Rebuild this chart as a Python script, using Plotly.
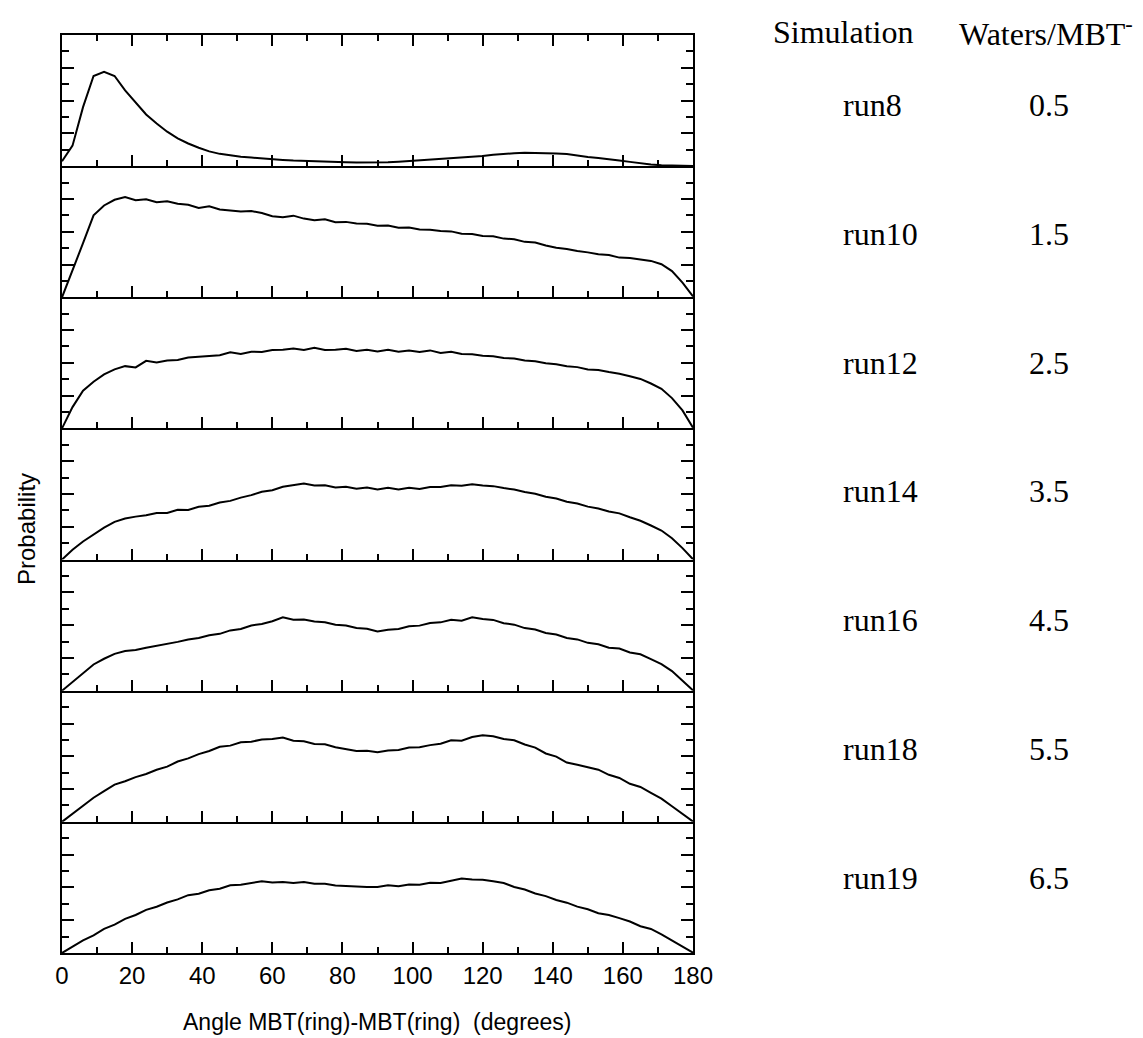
import plotly.graph_objects as go
from plotly.subplots import make_subplots

# ---------------- data (probability, in panel tick units 0-8) ----------------
angle = list(range(0, 181, 3))

run_names = ["run8", "run10", "run12", "run14", "run16", "run18", "run19"]
waters = ["0.5", "1.5", "2.5", "3.5", "4.5", "5.5", "6.5"]

run8 = [0.3, 1.25, 3.6, 5.5, 5.76, 5.5, 4.62, 3.85, 3.15, 2.6, 2.1, 1.7, 1.38, 1.12, 0.9, 0.75,
        0.65, 0.58, 0.52, 0.46, 0.42, 0.38, 0.34, 0.31, 0.29, 0.27, 0.25, 0.23, 0.22, 0.21, 0.21,
        0.23, 0.27, 0.31, 0.36, 0.42, 0.47, 0.51, 0.54, 0.57, 0.62, 0.69, 0.75, 0.79, 0.81, 0.81,
        0.79, 0.77, 0.74, 0.63, 0.56, 0.49, 0.43, 0.34, 0.26, 0.17, 0.1, 0.06, 0.04, 0.02, 0.01]
run10 = [0.0, 1.6, 3.3, 5.0, 5.6, 5.95, 6.12, 5.92, 5.98, 5.8, 5.86, 5.7, 5.64, 5.45, 5.55, 5.36,
         5.32, 5.24, 5.26, 5.14, 4.95, 4.88, 4.98, 4.8, 4.7, 4.76, 4.58, 4.6, 4.5, 4.48, 4.36,
         4.38, 4.24, 4.26, 4.14, 4.12, 4.04, 4.02, 3.88, 3.86, 3.74, 3.72, 3.58, 3.54, 3.38, 3.34,
         3.16, 3.02, 2.95, 2.82, 2.74, 2.62, 2.58, 2.42, 2.4, 2.3, 2.22, 2.02, 1.6, 0.9, 0.05]
run12 = [0.0, 1.3, 2.3, 2.85, 3.3, 3.6, 3.8, 3.72, 4.12, 4.02, 4.14, 4.18, 4.32, 4.36, 4.44, 4.46,
         4.64, 4.54, 4.68, 4.66, 4.78, 4.8, 4.88, 4.78, 4.92, 4.78, 4.8, 4.86, 4.72, 4.8, 4.7,
         4.8, 4.68, 4.75, 4.66, 4.76, 4.6, 4.68, 4.54, 4.52, 4.44, 4.4, 4.3, 4.27, 4.14, 4.1,
         3.97, 3.92, 3.8, 3.74, 3.6, 3.57, 3.44, 3.34, 3.18, 3.02, 2.74, 2.42, 1.85, 1.1, 0.05]
run14 = [0.0, 0.6, 1.1, 1.55, 1.95, 2.3, 2.5, 2.62, 2.7, 2.84, 2.84, 3.04, 3.03, 3.22, 3.28, 3.48,
         3.58, 3.78, 3.93, 4.14, 4.23, 4.44, 4.52, 4.64, 4.52, 4.54, 4.4, 4.44, 4.32, 4.4, 4.28,
         4.38, 4.28, 4.38, 4.3, 4.42, 4.43, 4.53, 4.5, 4.6, 4.52, 4.48, 4.36, 4.27, 4.12, 4.02,
         3.83, 3.72, 3.53, 3.42, 3.23, 3.12, 2.93, 2.82, 2.58, 2.37, 2.08, 1.77, 1.3, 0.7, 0.02]
run16 = [0.0, 0.55, 1.1, 1.6, 1.95, 2.25, 2.42, 2.48, 2.62, 2.73, 2.88, 2.98, 3.13, 3.22, 3.38, 3.47,
         3.68, 3.77, 3.98, 4.07, 4.24, 4.48, 4.33, 4.34, 4.22, 4.18, 4.02, 3.98, 3.82, 3.78, 3.62,
         3.72, 3.77, 3.93, 3.97, 4.13, 4.17, 4.33, 4.27, 4.48, 4.38, 4.32, 4.12, 4.03, 3.82, 3.73,
         3.52, 3.43, 3.22, 3.13, 2.92, 2.83, 2.62, 2.57, 2.33, 2.22, 1.93, 1.62, 1.2, 0.6, 0.02]
run18 = [0.0, 0.5, 1.0, 1.47, 1.88, 2.27, 2.48, 2.73, 2.92, 3.18, 3.37, 3.68, 3.87, 4.13, 4.32, 4.58,
         4.65, 4.85, 4.89, 5.03, 5.05, 5.15, 4.95, 4.91, 4.75, 4.73, 4.55, 4.43, 4.32, 4.33, 4.25,
         4.35, 4.39, 4.53, 4.55, 4.68, 4.77, 4.98, 4.95, 5.18, 5.28, 5.22, 5.05, 4.98, 4.72, 4.53,
         4.17, 3.98, 3.62, 3.48, 3.32, 3.18, 2.87, 2.68, 2.32, 2.13, 1.77, 1.42, 0.95, 0.5, 0.02]
run19 = [0.0, 0.4, 0.77, 1.08, 1.47, 1.73, 2.08, 2.32, 2.63, 2.82, 3.08, 3.27, 3.53, 3.62, 3.83, 3.92,
         4.13, 4.17, 4.28, 4.37, 4.3, 4.33, 4.27, 4.33, 4.22, 4.23, 4.12, 4.08, 4.07, 4.03, 4.02,
         4.13, 4.07, 4.18, 4.17, 4.28, 4.27, 4.43, 4.55, 4.48, 4.47, 4.38, 4.27, 4.03, 3.87, 3.63,
         3.47, 3.23, 3.07, 2.83, 2.67, 2.43, 2.32, 2.13, 1.92, 1.63, 1.47, 1.13, 0.77, 0.37, 0.02]

series = [run8, run10, run12, run14, run16, run18, run19]

x_ticks = list(range(0, 181, 20))

# ---------------- layout geometry (page body has an 8px margin) ----------------
OFF = 8
W, H = 1143 - OFF, 1038 - OFF
L, R, T, B = 62 - OFF, 450, 35 - OFF, 85
PW, PH = W - L - R, H - T - B


def px(x):
    """screen x pixel -> paper coordinate"""
    return (x - OFF - L) / PW


def py(y):
    """screen y pixel -> paper coordinate"""
    return (H - B - (y - OFF)) / PH


SANS = "Liberation Sans, Arial, sans-serif"
SERIF = "Liberation Serif, Times New Roman, serif"

n = len(series)
fig = make_subplots(rows=n, cols=1, shared_xaxes=True, vertical_spacing=0)

for i, ys in enumerate(series):
    fig.add_trace(go.Scatter(x=angle, y=ys, mode="lines",
                             line=dict(color="black", width=2), showlegend=False,
                             hoverinfo="skip"), row=i + 1, col=1)
    fig.update_xaxes(range=[0, 180], tickvals=x_ticks, ticks="inside", ticklen=11,
                     tickwidth=2, tickcolor="black", showline=True, linecolor="black",
                     linewidth=2, mirror="ticks" if i == 0 else False, showgrid=False,
                     zeroline=False,
                     minor=dict(dtick=10, ticks="inside", ticklen=6, tickwidth=2,
                                tickcolor="black", showgrid=False),
                     showticklabels=(i == n - 1),
                     tickfont=dict(family=SANS, size=24, color="black"),
                     row=i + 1, col=1)
    fig.update_yaxes(range=[0, 8], tickvals=[2, 4, 6], ticks="inside", ticklen=12,
                     tickwidth=2, tickcolor="black", showline=True, linecolor="black",
                     linewidth=2, mirror="ticks", showgrid=False, zeroline=False,
                     showticklabels=False,
                     minor=dict(tickvals=[1, 3, 5, 7], ticks="inside", ticklen=7,
                                tickwidth=2, tickcolor="black", showgrid=False),
                     row=i + 1, col=1)

annotations = []
# axis titles
annotations.append(dict(text="Probability", x=px(26), y=py(529), xref="paper", yref="paper",
                        showarrow=False, textangle=-90, xanchor="center", yanchor="middle",
                        font=dict(family=SANS, size=24, color="black")))
annotations.append(dict(text="Angle MBT(ring)-MBT(ring)  (degrees)", x=px(377), y=py(1022),
                        xref="paper", yref="paper", showarrow=False, xanchor="center",
                        yanchor="middle", font=dict(family=SANS, size=23, color="black")))
# table headers
annotations.append(dict(text="Simulation", x=px(843), y=py(32), xref="paper", yref="paper",
                        showarrow=False, xanchor="center", yanchor="middle",
                        font=dict(family=SERIF, size=32, color="black")))
annotations.append(dict(text="Waters/MBT<sup>-</sup>", x=px(957), y=py(32), xref="paper",
                        yref="paper", showarrow=False, xanchor="left", yanchor="middle",
                        font=dict(family=SERIF, size=32, color="black")))
row_y0, row_step = 105, 128.8
for i, (nm, wv) in enumerate(zip(run_names, waters)):
    yy = row_y0 + i * row_step
    annotations.append(dict(text=nm, x=px(841), y=py(yy), xref="paper", yref="paper",
                            showarrow=False, xanchor="left", yanchor="middle",
                            font=dict(family=SERIF, size=32, color="black")))
    annotations.append(dict(text=wv, x=px(1049), y=py(yy), xref="paper", yref="paper",
                            showarrow=False, xanchor="center", yanchor="middle",
                            font=dict(family=SERIF, size=32, color="black")))

fig.update_layout(width=W, height=H, margin=dict(l=L, r=R, t=T, b=B),
                  paper_bgcolor="white", plot_bgcolor="white", annotations=annotations)

fig.write_html("out.html")
